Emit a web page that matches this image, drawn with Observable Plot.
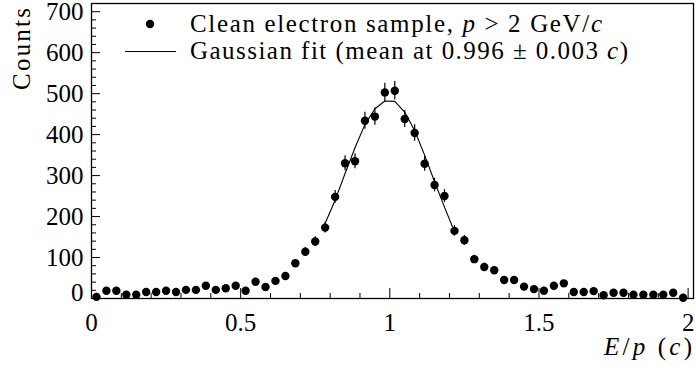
<!DOCTYPE html>
<html>
<head>
<meta charset="utf-8">
<script src="https://cdn.jsdelivr.net/npm/d3@7"></script>
<script src="https://cdn.jsdelivr.net/npm/@observablehq/plot@0.6"></script>
<style>
  html, body { margin: 0; padding: 0; background: white; }
</style>
</head>
<body>
<div id="chart"></div>
<script>
// Bin centres of E/p (60 bins from 0 to 2)
const binCenters = [
  0.0167, 0.0500, 0.0833, 0.1167, 0.1500, 0.1833, 0.2167, 0.2500, 0.2833, 0.3167,
  0.3500, 0.3833, 0.4167, 0.4500, 0.4833, 0.5167, 0.5500, 0.5833, 0.6167, 0.6500,
  0.6833, 0.7167, 0.7500, 0.7833, 0.8167, 0.8500, 0.8833, 0.9167, 0.9500, 0.9833,
  1.0167, 1.0500, 1.0833, 1.1167, 1.1500, 1.1833, 1.2167, 1.2500, 1.2833, 1.3167,
  1.3500, 1.3833, 1.4167, 1.4500, 1.4833, 1.5167, 1.5500, 1.5833, 1.6167, 1.6500,
  1.6833, 1.7167, 1.7500, 1.7833, 1.8167, 1.8500, 1.8833, 1.9167, 1.9500, 1.9833
];
// Counts per bin
const counts = [
  4, 19, 19, 9, 9, 16, 16, 19, 16, 21,
  21, 31, 21, 25, 31, 19, 41, 28, 43, 55,
  86, 114, 139, 173, 248, 330, 335, 434, 444, 503,
  507, 438, 404, 329, 277, 250, 165, 142, 96, 77,
  69, 45, 45, 29, 23, 19, 31, 37, 16, 16,
  18, 8, 14, 14, 9, 9, 9, 9, 14, 2
];
// Gaussian fit curve
const fitX = [0.78, 0.8167, 0.85, 0.8833, 0.9167, 0.95, 0.9833, 1.0167, 1.05, 1.0833, 1.1167, 1.15, 1.1833, 1.21];
const fitY = [178, 240, 305, 368, 425, 463, 482, 481, 455, 410, 350, 285, 223, 175];

// Axis ticks
const xMajor = [0, 0.5, 1, 1.5, 2];
const xMinor = [0.1, 0.2, 0.3, 0.4, 0.6, 0.7, 0.8, 0.9, 1.1, 1.2, 1.3, 1.4, 1.6, 1.7, 1.8, 1.9];
const yMajor = [0, 100, 200, 300, 400, 500, 600, 700];
const yMinor = [20, 40, 60, 80, 120, 140, 160, 180, 220, 240, 260, 280, 320, 340, 360, 380,
                420, 440, 460, 480, 520, 540, 560, 580, 620, 640, 660, 680];

const legendLabels = ["Clean electron sample, ", "Gaussian fit (mean at 0.996 \u00b1 0.003 "];

const points = binCenters.map((x, i) => ({x, y: counts[i]}));
const fit = fitX.map((x, i) => ({x, y: fitY[i]}));

const W = 696, H = 372;
const mT = 3, mB = 74, mL = 91, mR = 3;
const innerW = W - mL - mR, innerH = H - mT - mB;
const FONT = "Liberation Serif";

const plot = Plot.plot({
  width: W, height: H,
  marginTop: mT, marginBottom: mB, marginLeft: mL, marginRight: mR,
  x: {domain: [0, 2.018]},
  y: {domain: [0, 720]},
  style: {fontFamily: FONT, fontSize: "25px", background: "white", color: "black", overflow: "visible"},
  marks: [
    Plot.axisX({ticks: xMajor, tickSize: 0, tickPadding: 15, fontSize: 25, fontFamily: FONT, label: null, tickFormat: d => String(d)}),
    Plot.axisY({ticks: yMajor.filter(v => v > 0), tickSize: 0, tickPadding: 8, fontSize: 25, fontFamily: FONT, label: null, tickFormat: d => String(d)}),
    Plot.axisY({ticks: [0], tickSize: 0, tickPadding: 8, fontSize: 25, fontFamily: FONT, label: null, dy: -6, tickFormat: d => String(d)}),
    Plot.tickX(xMajor, {x: d => d, insetTop: innerH - 10, stroke: "black", strokeWidth: 1}),
    Plot.tickX(xMinor, {x: d => d, insetTop: innerH - 5, stroke: "black", strokeWidth: 1}),
    Plot.tickY(yMajor, {y: d => d, insetRight: innerW - 9, stroke: "black", strokeWidth: 1}),
    Plot.tickY(yMinor, {y: d => d, insetRight: innerW - 5, stroke: "black", strokeWidth: 1}),
    Plot.line(fit, {x: "x", y: "y", stroke: "black", strokeWidth: 1.1}),
    Plot.ruleX(points, {x: "x", y1: d => d.y - Math.sqrt(d.y), y2: d => d.y + Math.sqrt(d.y), stroke: "black", strokeWidth: 1.2}),
    Plot.dot(points, {x: "x", y: "y", r: 4.2, fill: "black", stroke: "none"}),
    Plot.frame({stroke: "black", strokeWidth: 1.3})
  ]
});

document.getElementById("chart").appendChild(plot);

const svg = d3.select(plot);

// Y-axis title
svg.append("text")
  .attr("transform", "translate(30,8) rotate(-90)")
  .attr("text-anchor", "end")
  .attr("font-family", FONT)
  .attr("font-size", 25)
  .attr("fill", "black")
  .attr("textLength", 82)
  .attr("lengthAdjust", "spacing")
  .text("Counts");

// X-axis title
const xt = svg.append("text")
  .attr("x", 604).attr("y", 355)
  .attr("text-anchor", "start")
  .attr("font-family", FONT)
  .attr("font-size", 25)
  .attr("fill", "black")
  .attr("textLength", 88)
  .attr("lengthAdjust", "spacing");
xt.append("tspan").attr("font-style", "italic").text("E");
xt.append("tspan").text("/");
xt.append("tspan").attr("font-style", "italic").text("p");
xt.append("tspan").text(" (");
xt.append("tspan").attr("font-style", "italic").text("c");
xt.append("tspan").text(")");

// Legend
svg.append("circle").attr("cx", 150).attr("cy", 24).attr("r", 4.2).attr("fill", "black");
svg.append("line").attr("x1", 125).attr("x2", 176).attr("y1", 51.5).attr("y2", 51.5)
  .attr("stroke", "black").attr("stroke-width", 1.1);

const l1 = svg.append("text")
  .attr("x", 190).attr("y", 31.5)
  .attr("text-anchor", "start")
  .attr("font-family", FONT)
  .attr("font-size", 25).attr("fill", "black")
  .attr("textLength", 412).attr("lengthAdjust", "spacing");
l1.append("tspan").text(legendLabels[0]);
l1.append("tspan").attr("font-style", "italic").text("p");
l1.append("tspan").text(" > 2 GeV/");
l1.append("tspan").attr("font-style", "italic").text("c");

const l2 = svg.append("text")
  .attr("x", 190).attr("y", 58.5)
  .attr("text-anchor", "start")
  .attr("font-family", FONT)
  .attr("font-size", 25).attr("fill", "black")
  .attr("textLength", 438).attr("lengthAdjust", "spacing");
l2.append("tspan").text(legendLabels[1]);
l2.append("tspan").attr("font-style", "italic").text("c");
l2.append("tspan").text(")");
</script>
</body>
</html>
